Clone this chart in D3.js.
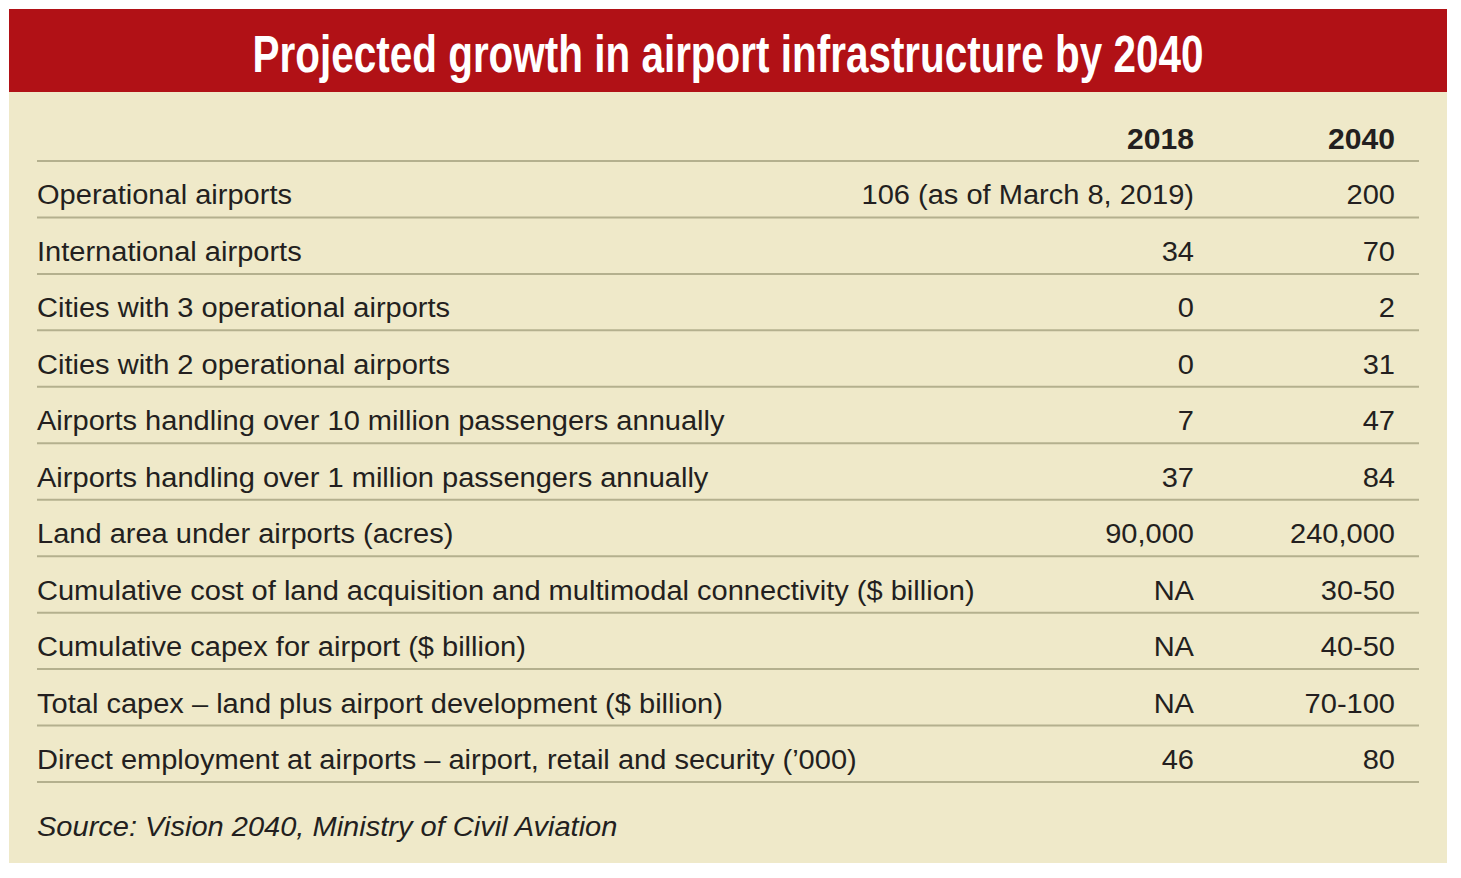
<!DOCTYPE html>
<html>
<head>
<meta charset="utf-8">
<script src="https://cdn.jsdelivr.net/npm/d3@7"></script>
<style>
  body { margin: 0; background: #fff; }
  svg { display: block; }
  text { font-family: "Liberation Sans", Arial, sans-serif; fill: #231f20; }
</style>
</head>
<body>
<svg id="chart"></svg>
<script>
const width = 1461;
const height = 878;

const title = 'Projected growth in airport infrastructure by 2040';
const columns = ['2018', '2040'];
const rowLabels = [
  'Operational airports',
  'International airports',
  'Cities with 3 operational airports',
  'Cities with 2 operational airports',
  'Airports handling over 10 million passengers annually',
  'Airports handling over 1 million passengers annually',
  'Land area under airports (acres)',
  'Cumulative cost of land acquisition and multimodal connectivity ($ billion)',
  'Cumulative capex for airport ($ billion)',
  'Total capex \u2013 land plus airport development ($ billion)',
  'Direct employment at airports \u2013 airport, retail and security (\u2019000)'
];
const values2018 = ['106 (as of March 8, 2019)', '34', '0', '0', '7', '37', '90,000', 'NA', 'NA', 'NA', '46'];
const values2040 = ['200', '70', '2', '31', '47', '84', '240,000', '30-50', '40-50', '70-100', '80'];
const source = 'Source: Vision 2040, Ministry of Civil Aviation';

const panel = {left: 9, right: 1447, top: 9, bottom: 863, header: 92};
const table = {left: 37, right: 1419, top: 161, bottom: 782};

const svg = d3.select('#chart')
  .attr('width', width)
  .attr('height', height);

// panel background
svg.append('rect')
  .attr('x', panel.left).attr('y', panel.top)
  .attr('width', panel.right - panel.left)
  .attr('height', panel.bottom - panel.top)
  .attr('fill', '#efe9c9');

svg.append('rect')
  .attr('x', panel.left).attr('y', panel.top)
  .attr('width', panel.right - panel.left)
  .attr('height', panel.header - panel.top)
  .attr('fill', '#b11116');

const titleText = svg.append('text')
  .attr('text-anchor', 'middle')
  .attr('font-size', 52)
  .attr('font-weight', 'bold')
  .style('fill', '#fff')
  .text(title);
// squeeze title to condensed width
const titleScale = 951 / titleText.node().getComputedTextLength();
titleText.attr('transform', `translate(728, 72) scale(${titleScale}, 1)`);

// scales
const yScale = d3.scaleBand()
  .domain(d3.range(rowLabels.length))
  .range([table.top, table.bottom]);

const xScale = d3.scaleOrdinal()
  .domain(columns)
  .range([1194, 1395]);

// horizontal rules
const rules = [table.top].concat(yScale.domain().map(i => yScale(i) + yScale.bandwidth()));
svg.selectAll('line.rule')
  .data(rules)
  .enter()
  .append('line')
  .attr('class', 'rule')
  .attr('x1', table.left).attr('x2', table.right)
  .attr('y1', d => d).attr('y2', d => d)
  .attr('stroke', '#b4b08e')
  .attr('stroke-width', 2);

// measure to condense body text
const probe = svg.append('text').attr('font-size', 28)
  .text(rowLabels[7]);
const sx = 938 / probe.node().getComputedTextLength();
probe.remove();

const place = (x, y) => `translate(${x}, ${y}) scale(${sx}, 1)`;

// column headers
svg.selectAll('text.colhead')
  .data(columns)
  .enter()
  .append('text')
  .attr('class', 'colhead')
  .attr('text-anchor', 'end')
  .attr('font-size', 29)
  .attr('font-weight', 'bold')
  .attr('transform', d => place(xScale(d), table.top - 12))
  .text(d => d);

const baseline = i => yScale(i) + yScale.bandwidth() - 13;

svg.selectAll('text.label')
  .data(rowLabels)
  .enter()
  .append('text')
  .attr('class', 'label')
  .attr('font-size', 28)
  .attr('transform', (d, i) => place(table.left, baseline(i)))
  .text(d => d);

[values2018, values2040].forEach((vals, c) => {
  svg.selectAll('text.val' + c)
    .data(vals)
    .enter()
    .append('text')
    .attr('class', 'val' + c)
    .attr('text-anchor', 'end')
    .attr('font-size', 28)
    .attr('transform', (d, i) => place(xScale(columns[c]), baseline(i)))
    .text(d => d);
});

svg.append('text')
  .attr('font-size', 28)
  .attr('font-style', 'italic')
  .attr('transform', place(table.left, 836))
  .text(source);
</script>
</body>
</html>
